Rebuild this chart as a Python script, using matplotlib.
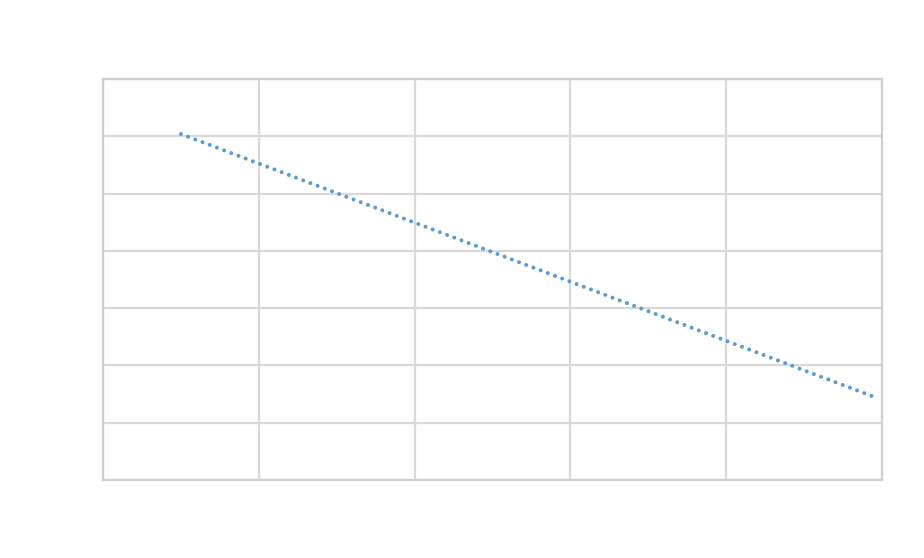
import matplotlib
matplotlib.use("Agg")
import matplotlib.pyplot as plt

# trend line endpoints
trend_x = [0.5, 4.97]
trend_y = [6.04, 1.43]

x_ticks = [0, 1, 2, 3, 4, 5]
y_ticks = [0, 1, 2, 3, 4, 5, 6, 7]

fig = plt.figure(figsize=(9.24, 5.58), dpi=100)
ax = fig.add_axes([103 / 924, 1 - 480 / 558, 779 / 924, 401 / 558])

ax.set_xlim(x_ticks[0], x_ticks[-1])
ax.set_ylim(y_ticks[0], y_ticks[-1])
ax.set_xticks(x_ticks)
ax.set_yticks(y_ticks)
ax.grid(True, color="#d9d9d9", linewidth=1.6)
ax.tick_params(length=0, labelbottom=False, labelleft=False)
for s in ax.spines.values():
    s.set_color("#d0d0d0")
    s.set_linewidth(1.6)

ax.plot(trend_x, trend_y, color="#5b9bd5", linewidth=2.9,
        linestyle=(0, (0.01, 1.9)), dash_capstyle="round", zorder=3)

fig.savefig("out.png", dpi=100)
